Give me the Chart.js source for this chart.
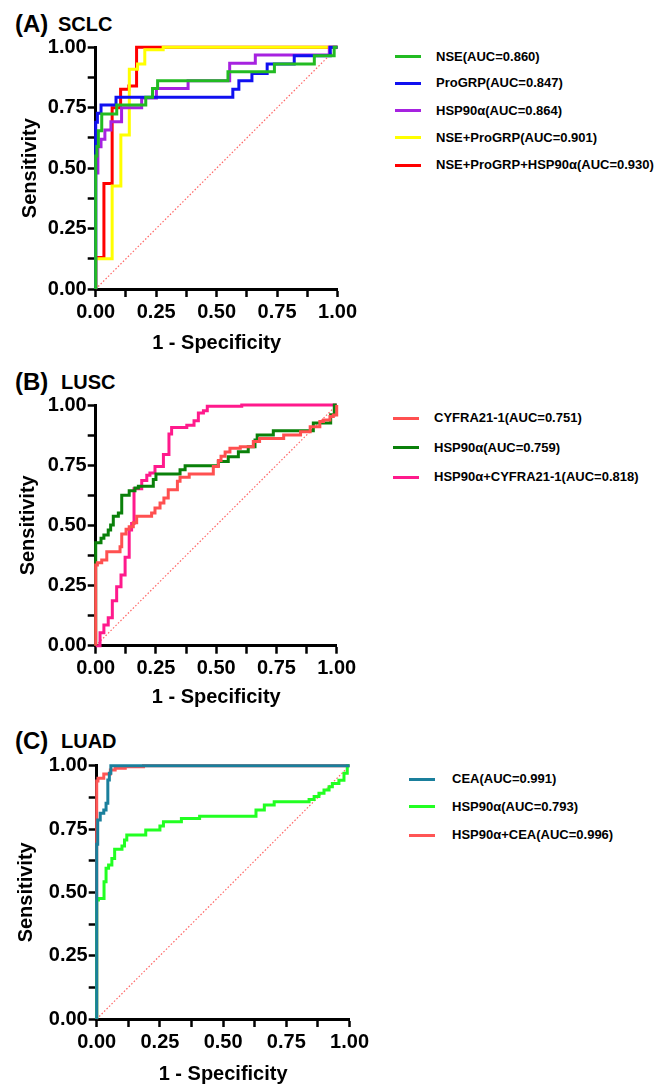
<!DOCTYPE html>
<html lang="en">
<head>
  <meta charset="UTF-8" />
  <title>ROC curves</title>
  <style>
    body {
      margin: 0;
      width: 667px;
      height: 1086px;
      background: #fff;
      position: relative;
      overflow: hidden;
      font-family: 'Liberation Sans', Arial, sans-serif;
      font-weight: bold;
      color: #000;
    }
    canvas { position: absolute; left: 0; }
    .panel-tag { position: absolute; font-size: 24px; line-height: 24px; }
    .panel-name { position: absolute; font-size: 20px; line-height: 20px; }
    .lg-line { position: absolute; width: 26px; height: 3px; }
    .lg-text { position: absolute; font-size: 13px; line-height: 16px; white-space: nowrap; }
  </style>
</head>
<body>

<div class="panel-tag" style="left:15px; top:12px;">(A)</div>
<div class="panel-name" style="left:58px; top:14px;">SCLC</div>
<div class="panel-tag" style="left:15px; top:370px;">(B)</div>
<div class="panel-name" style="left:61px; top:372px;">LUSC</div>
<div class="panel-tag" style="left:15px; top:729px;">(C)</div>
<div class="panel-name" style="left:61px; top:731px;">LUAD</div>

<canvas id="chart-a" width="360" height="360" style="top:0px;"></canvas>
<canvas id="chart-b" width="360" height="365" style="top:350px;"></canvas>
<canvas id="chart-c" width="372" height="386" style="top:700px;"></canvas>

<div id="legend-a"></div>
<div id="legend-b"></div>
<div id="legend-c"></div>

<script src="https://cdn.jsdelivr.net/npm/chart.js"></script>
<script>
  // (A) SCLC  -- corner points of each ROC step curve (1 - specificity, sensitivity)
  const sclcNseX      = [0, 0, 0.005, 0.011, 0.025, 0.087, 0.207, 0.235, 0.256, 0.547, 0.739, 0.904, 0.986, 1];
  const sclcNseY      = [0, 0.55, 0.59, 0.655, 0.724, 0.761, 0.793, 0.83, 0.862, 0.899, 0.931, 0.965, 1, 1];
  const sclcProgrpX   = [0, 0, 0.007, 0.022, 0.084, 0.567, 0.592, 0.646, 0.709, 0.821, 0.97, 1];
  const sclcProgrpY   = [0, 0.69, 0.727, 0.761, 0.793, 0.826, 0.862, 0.892, 0.931, 0.965, 1, 1];
  const sclcHspX      = [0, 0, 0.009, 0.022, 0.038, 0.063, 0.107, 0.19, 0.251, 0.382, 0.554, 0.66, 0.966, 1];
  const sclcHspY      = [0, 0.48, 0.589, 0.62, 0.658, 0.692, 0.75, 0.79, 0.83, 0.862, 0.934, 0.968, 1, 1];
  const sclcNsePgX    = [0, 0, 0.068, 0.104, 0.139, 0.173, 0.203, 0.279, 1];
  const sclcNsePgY    = [0, 0.125, 0.426, 0.637, 0.909, 0.931, 0.99, 1, 1];
  const sclcAllX      = [0, 0, 0.034, 0.068, 0.103, 0.137, 0.169, 1];
  const sclcAllY      = [0, 0.13, 0.437, 0.75, 0.826, 0.84, 1, 1];

  // (B) LUSC
  const luscCyfraX    = [0, 0, 0.007, 0.025, 0.046, 0.101, 0.108, 0.126, 0.139, 0.156, 0.17, 0.232, 0.246, 0.267, 0.283, 0.301, 0.339, 0.35, 0.388, 0.488, 0.509, 0.52, 0.537, 0.557, 0.6, 0.654, 0.68, 0.78, 0.85, 0.89, 0.93, 0.945, 0.972, 0.986, 1];
  const luscCyfraY    = [0, 0.335, 0.345, 0.356, 0.39, 0.411, 0.464, 0.484, 0.494, 0.511, 0.538, 0.551, 0.572, 0.593, 0.614, 0.648, 0.683, 0.7, 0.713, 0.745, 0.769, 0.787, 0.805, 0.82, 0.827, 0.848, 0.861, 0.875, 0.889, 0.91, 0.931, 0.938, 0.952, 0.958, 1];
  const luscHspX      = [0, 0, 0.022, 0.034, 0.052, 0.062, 0.073, 0.094, 0.108, 0.139, 0.163, 0.177, 0.239, 0.25, 0.35, 0.371, 0.509, 0.55, 0.592, 0.633, 0.661, 0.67, 0.737, 0.903, 0.975, 0.99, 1];
  const luscHspY      = [0, 0.428, 0.446, 0.46, 0.481, 0.501, 0.538, 0.551, 0.625, 0.644, 0.655, 0.662, 0.69, 0.713, 0.731, 0.748, 0.765, 0.785, 0.806, 0.827, 0.855, 0.875, 0.893, 0.925, 0.96, 1, 1];
  const luscComboX    = [0, 0.018, 0.034, 0.052, 0.069, 0.087, 0.105, 0.122, 0.139, 0.149, 0.159, 0.191, 0.212, 0.225, 0.246, 0.281, 0.304, 0.315, 0.378, 0.408, 0.426, 0.447, 0.463, 0.606, 1];
  const luscComboY    = [0, 0.054, 0.086, 0.116, 0.187, 0.245, 0.294, 0.367, 0.481, 0.508, 0.652, 0.686, 0.708, 0.717, 0.745, 0.794, 0.88, 0.907, 0.916, 0.935, 0.967, 0.976, 0.995, 1, 1];

  // (C) LUAD
  const luadCeaX      = [0, 0, 0.004, 0.014, 0.028, 0.037, 0.044, 0.05, 0.056, 1];
  const luadCeaY      = [0, 0.69, 0.786, 0.812, 0.825, 0.852, 0.944, 0.97, 1, 1];
  const luadHspX      = [0, 0, 0.007, 0.029, 0.037, 0.047, 0.06, 0.071, 0.1, 0.11, 0.119, 0.194, 0.25, 0.264, 0.335, 0.407, 0.63, 0.663, 0.702, 0.84, 0.86, 0.879, 0.899, 0.919, 0.932, 0.958, 0.978, 0.991, 1];
  const luadHspY      = [0, 0.47, 0.476, 0.542, 0.595, 0.608, 0.634, 0.67, 0.683, 0.707, 0.726, 0.746, 0.762, 0.779, 0.792, 0.8, 0.825, 0.845, 0.858, 0.867, 0.878, 0.891, 0.904, 0.917, 0.93, 0.943, 0.97, 1, 1];
  const luadComboX    = [0, 0, 0.005, 0.028, 0.054, 0.073, 0.113, 0.185, 1];
  const luadComboY    = [0, 0.94, 0.95, 0.967, 0.983, 0.99, 0.996, 1, 1];

  const chanceX = [0, 1];
  const chanceY = [0, 1];

  const FONT = "'Liberation Sans', Arial, sans-serif";

  function pts(xs, ys) {
    return xs.map((x, i) => ({ x: x, y: ys[i] }));
  }

  function makeLegend(id, items, lineLeft, textLeft, rows) {
    const box = document.getElementById(id);
    items.forEach((it, i) => {
      const line = document.createElement('div');
      line.className = 'lg-line';
      line.style.left = lineLeft + 'px';
      line.style.top = (rows[i] - 1.5) + 'px';
      line.style.background = it.color;
      box.appendChild(line);
      const txt = document.createElement('div');
      txt.className = 'lg-text';
      txt.style.left = textLeft + 'px';
      txt.style.top = (rows[i] - 8) + 'px';
      txt.textContent = it.label;
      box.appendChild(txt);
    });
  }

  function axis(fixedSize, titleText, titlePad, isX) {
    return {
      type: 'linear',
      min: 0,
      max: 1,
      afterFit: function(scale) {
        if (isX) scale.height = fixedSize; else scale.width = fixedSize;
      },
      ticks: {
        stepSize: 0.125,
        autoSkip: false,
        maxRotation: 0,
        padding: isX ? 3 : 1,
        color: '#000',
        font: { family: FONT, size: 20, weight: 'bold' },
        callback: function(v) {
          const q = v * 4;
          return Math.abs(q - Math.round(q)) < 1e-6 ? v.toFixed(2) : '';
        }
      },
      grid: {
        drawOnChartArea: false,
        drawTicks: true,
        tickLength: 8,
        tickColor: '#000',
        tickWidth: 2.5
      },
      border: { display: true, color: '#000', width: 3 },
      title: {
        display: true,
        text: titleText,
        color: '#000',
        font: { family: FONT, size: 20, weight: 'bold' },
        padding: titlePad
      }
    };
  }

  function makeChart(id, series, layout) {
    // 'before' = horizontal run first, then the vertical rise (ROC staircase)
    const datasets = series.map((s, i) => ({
      label: s.label,
      data: s.data,
      showLine: true,
      stepped: s.dotted ? false : 'before',
      borderColor: s.color,
      borderWidth: s.dotted ? 1.2 : 3,
      borderDash: s.dotted ? [1.5, 2] : [],
      pointRadius: 0,
      clip: false,
      order: i
    }));
    new Chart(document.getElementById(id), {
      type: 'scatter',
      data: { datasets: datasets },
      options: {
        responsive: false,
        animation: false,
        layout: { padding: { top: layout.top, right: layout.right, left: 0, bottom: 0 } },
        plugins: { legend: { display: false }, tooltip: { enabled: false }, title: { display: false } },
        scales: {
          x: axis(layout.xHeight, '1 - Specificity', { top: 0, bottom: layout.xTitlePad }, true),
          y: axis(layout.yWidth, 'Sensitivity', { top: layout.yTitlePad, bottom: 0 }, false)
        }
      }
    });
  }

  const seriesA = [
    { label: 'NSE(AUC=0.860)', color: '#22bb22', data: pts(sclcNseX, sclcNseY) },
    { label: 'ProGRP(AUC=0.847)', color: '#1010f0', data: pts(sclcProgrpX, sclcProgrpY) },
    { label: 'HSP90α(AUC=0.864)', color: '#a622e0', data: pts(sclcHspX, sclcHspY) },
    { label: 'NSE+ProGRP(AUC=0.901)', color: '#ffff00', data: pts(sclcNsePgX, sclcNsePgY) },
    { label: 'NSE+ProGRP+HSP90α(AUC=0.930)', color: '#ff0000', data: pts(sclcAllX, sclcAllY) },
    { label: '', color: '#ff6464', dotted: true, data: pts(chanceX, chanceY) }
  ];
  const seriesB = [
    { label: 'CYFRA21-1(AUC=0.751)', color: '#ff5050', data: pts(luscCyfraX, luscCyfraY) },
    { label: 'HSP90α(AUC=0.759)', color: '#0a800a', data: pts(luscHspX, luscHspY) },
    { label: 'HSP90α+CYFRA21-1(AUC=0.818)', color: '#ff1a8c', data: pts(luscComboX, luscComboY) },
    { label: '', color: '#ff6464', dotted: true, data: pts(chanceX, chanceY) }
  ];
  const seriesC = [
    { label: 'CEA(AUC=0.991)', color: '#1a7f9c', data: pts(luadCeaX, luadCeaY) },
    { label: 'HSP90α(AUC=0.793)', color: '#22ff22', data: pts(luadHspX, luadHspY) },
    { label: 'HSP90α+CEA(AUC=0.996)', color: '#ff5555', data: pts(luadComboX, luadComboY) },
    { label: '', color: '#ff6464', dotted: true, data: pts(chanceX, chanceY) }
  ];

  makeChart('chart-a', seriesA, { top: 47.3, right: 21.7, xHeight: 71, yWidth: 95.7, xTitlePad: 5, yTitlePad: 18 });
  makeChart('chart-b', seriesB, { top: 55, right: 23.3, xHeight: 69.3, yWidth: 95.7, xTitlePad: 6, yTitlePad: 16 });
  makeChart('chart-c', seriesC, { top: 65.7, right: 21.3, xHeight: 67, yWidth: 96.7, xTitlePad: 0, yTitlePad: 14 });

  makeLegend('legend-a', seriesA.slice(0, 5), 395, 436, [56.7, 83.3, 110.7, 137.7, 165]);
  makeLegend('legend-b', seriesB.slice(0, 3), 393, 434, [418.3, 447.7, 477.3]);
  makeLegend('legend-c', seriesC.slice(0, 3), 409, 452, [779, 806.7, 835]);
</script>
</body>
</html>
